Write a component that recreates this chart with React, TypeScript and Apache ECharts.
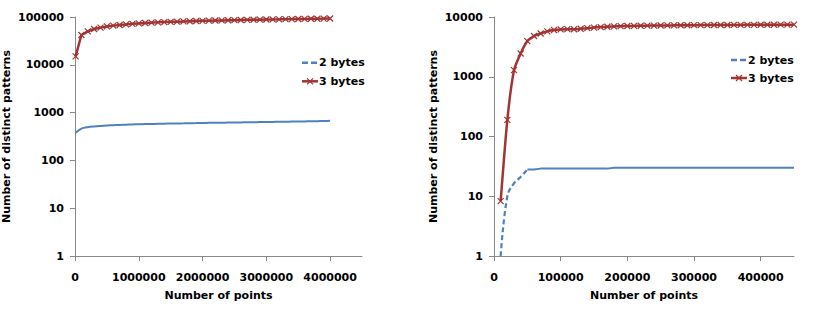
import React, { useEffect, useRef } from "react";
import * as echarts from "echarts";

// Left panel: pattern counts over the full point range
const leftPoints = [
  10000, 100000, 200000, 300000, 400000, 500000, 600000, 700000, 800000, 900000,
  1000000, 1100000, 1200000, 1300000, 1400000, 1500000, 1600000, 1700000, 1800000, 1900000,
  2000000, 2100000, 2200000, 2300000, 2400000, 2500000, 2600000, 2700000, 2800000, 2900000,
  3000000, 3100000, 3200000, 3300000, 3400000, 3500000, 3600000, 3700000, 3800000, 3900000,
  4000000,
];
const leftTwoBytes = [
  380, 462, 496, 514, 527, 538, 546, 553, 559, 565,
  570, 574, 578, 582, 586, 590, 593, 596, 600, 603,
  607, 610, 612, 615, 618, 621, 624, 627, 630, 633,
  636, 639, 642, 645, 648, 651, 655, 659, 663, 667,
  672,
];
const leftThreeBytes = [
  15000, 42000, 50000, 56000, 60000, 63500, 66000, 68000, 70000, 72000,
  73500, 75000, 76200, 77300, 78300, 79200, 80000, 80800, 81600, 82300,
  83000, 83700, 84300, 84900, 85500, 86000, 86600, 87100, 87600, 88100,
  88600, 89100, 89500, 90000, 90400, 90900, 91300, 91700, 92100, 92500,
  93000,
];

// Right panel: pattern counts for the first points
const rightPoints = [
  10000, 20000, 30000, 40000, 50000, 60000, 70000, 80000, 90000, 100000,
  110000, 120000, 130000, 140000, 150000, 160000, 170000, 180000, 190000, 200000,
  210000, 220000, 230000, 240000, 250000, 260000, 270000, 280000, 290000, 300000,
  310000, 320000, 330000, 340000, 350000, 360000, 370000, 380000, 390000, 400000,
  410000, 420000, 430000, 440000, 450000,
];
const rightTwoBytes = [
  1, 10, 16.5, 21, 28, 28, 29, 29, 29, 29,
  29, 29, 29, 29, 29, 29, 29, 30, 30, 30,
  30, 30, 30, 30, 30, 30, 30, 30, 30, 30,
  30, 30, 30, 30, 30, 30, 30, 30, 30, 30,
  30, 30, 30, 30, 30,
];
const rightThreeBytes = [
  8.3, 190, 1290, 2450, 3950, 4800, 5300, 5750, 6050, 6200,
  6250, 6230, 6350, 6500, 6650, 6780, 6880, 6960, 7020, 7070,
  7100, 7130, 7160, 7190, 7210, 7230, 7250, 7270, 7290, 7300,
  7320, 7330, 7340, 7350, 7360, 7370, 7380, 7390, 7400, 7410,
  7420, 7430, 7440, 7445, 7450,
];
// the 2-byte curve is drawn dashed while it climbs, solid once it levels off
const rightRiseEnd = 5;

const leftXTicks = [0, 1000000, 2000000, 3000000, 4000000];
const rightXTicks = [0, 100000, 200000, 300000, 400000];
const legendNames = ["2 bytes", "3 bytes"];

const BLUE = "#4f81bd";
const RED = "#a23434";
const AXIS = "#888888";
const FONT = "DejaVu Sans";
const CROSS = "path://M0,0L10,10M0,10L10,0";
const DASH = [5, 3];

const pairs = (xs: number[], ys: number[]) => xs.map((x, i) => [x, ys[i]]);
const plain = (v: number) => String(Math.round(v));

const labelStyle = { color: "#000", fontWeight: "bold", fontSize: 11, fontFamily: FONT };

function xAxisFor(gridIndex: number, max: number, ticks: number[]) {
  return {
    type: "value",
    gridIndex,
    min: 0,
    max,
    interval: ticks[1],
    name: "Number of points",
    nameLocation: "middle",
    nameGap: 34,
    nameTextStyle: labelStyle,
    axisLine: { show: true, lineStyle: { color: AXIS, width: 1 } },
    axisTick: { show: true, length: 5, customValues: ticks, lineStyle: { color: AXIS } },
    axisLabel: { ...labelStyle, margin: 16, customValues: ticks, formatter: plain },
    splitLine: { show: false },
  };
}

function yAxisFor(gridIndex: number, max: number, splitNumber: number, nameGap: number) {
  return {
    type: "log",
    logBase: 10,
    gridIndex,
    min: 1,
    max,
    splitNumber,
    name: "Number of distinct patterns",
    nameLocation: "middle",
    nameGap,
    nameTextStyle: labelStyle,
    axisLine: { show: true, lineStyle: { color: AXIS, width: 1 } },
    axisTick: { show: true, length: 5, lineStyle: { color: AXIS } },
    minorTick: { show: false },
    axisLabel: { ...labelStyle, margin: 11, formatter: plain },
    splitLine: { show: false },
  };
}

// Legend key: a short dashed blue stroke and a red stroke with a cross marker
function legendKey(left: number, top: number, gap: number) {
  const iconW = 16;
  const textX = left + iconW + 1;
  const y2 = top + gap;
  const cx = left + iconW / 2;
  const r = 3;
  const textStyle = (text: string) => ({
    text,
    fill: "#000",
    font: `bold 11px "${FONT}"`,
    verticalAlign: "middle",
    align: "left",
  });
  return [
    {
      type: "line",
      shape: { x1: left, y1: top, x2: left + iconW, y2: top },
      style: { stroke: BLUE, lineWidth: 2.5, lineDash: [6, 3] },
    },
    { type: "text", x: textX, y: top, style: textStyle(legendNames[0]) },
    {
      type: "line",
      shape: { x1: left, y1: y2, x2: left + iconW, y2: y2 },
      style: { stroke: RED, lineWidth: 2.5 },
    },
    {
      type: "line",
      shape: { x1: cx - r, y1: y2 - r, x2: cx + r, y2: y2 + r },
      style: { stroke: RED, lineWidth: 1.2 },
    },
    {
      type: "line",
      shape: { x1: cx - r, y1: y2 + r, x2: cx + r, y2: y2 - r },
      style: { stroke: RED, lineWidth: 1.2 },
    },
    { type: "text", x: textX, y: y2, style: textStyle(legendNames[1]) },
  ];
}

const twoBytesStyle = {
  type: "line",
  symbol: "none",
  showSymbol: false,
  itemStyle: { color: BLUE },
};

const threeBytesStyle = {
  type: "line",
  symbol: CROSS,
  symbolSize: 6,
  showSymbol: true,
  itemStyle: { color: RED, borderColor: RED, borderWidth: 1.2 },
  lineStyle: { color: RED, width: 2.5 },
  z: 3,
};

export default function App() {
  const ref = useRef<HTMLDivElement>(null);

  useEffect(() => {
    if (!ref.current) return;
    const chart = echarts.init(ref.current, undefined, { renderer: "svg" });
    chart.setOption({
      animation: false,
      backgroundColor: "#ffffff",
      textStyle: { fontFamily: FONT },
      grid: [
        { left: 73, top: 17, width: 289, height: 239 },
        { left: 494, top: 17, width: 300, height: 239 },
      ],
      xAxis: [xAxisFor(0, 4500000, leftXTicks), xAxisFor(1, 450000, rightXTicks)],
      yAxis: [yAxisFor(0, 100000, 5, 63), yAxisFor(1, 10000, 4, 55)],
      graphic: [...legendKey(302, 62.7, 18.6), ...legendKey(731, 60, 18)],
      series: [
        {
          ...twoBytesStyle,
          name: legendNames[0],
          xAxisIndex: 0,
          yAxisIndex: 0,
          smooth: 0.3,
          lineStyle: { color: BLUE, width: 2 },
          data: pairs(leftPoints, leftTwoBytes),
        },
        {
          ...threeBytesStyle,
          name: legendNames[1],
          xAxisIndex: 0,
          yAxisIndex: 0,
          data: pairs(leftPoints, leftThreeBytes),
        },
        {
          ...twoBytesStyle,
          name: legendNames[0],
          xAxisIndex: 1,
          yAxisIndex: 1,
          smooth: 0.4,
          lineStyle: { color: BLUE, width: 2.2, type: DASH },
          data: pairs(rightPoints.slice(0, rightRiseEnd), rightTwoBytes.slice(0, rightRiseEnd)),
        },
        {
          ...twoBytesStyle,
          name: legendNames[0],
          xAxisIndex: 1,
          yAxisIndex: 1,
          lineStyle: { color: BLUE, width: 2 },
          data: pairs(rightPoints.slice(rightRiseEnd - 1), rightTwoBytes.slice(rightRiseEnd - 1)),
        },
        {
          ...threeBytesStyle,
          name: legendNames[1],
          xAxisIndex: 1,
          yAxisIndex: 1,
          smooth: 0.2,
          data: pairs(rightPoints, rightThreeBytes),
        },
      ],
    });
    return () => chart.dispose();
  }, []);

  return (
    <div
      ref={ref}
      style={{ position: "fixed", left: 0, top: 0, width: 828, height: 322, background: "#fff" }}
    />
  );
}
